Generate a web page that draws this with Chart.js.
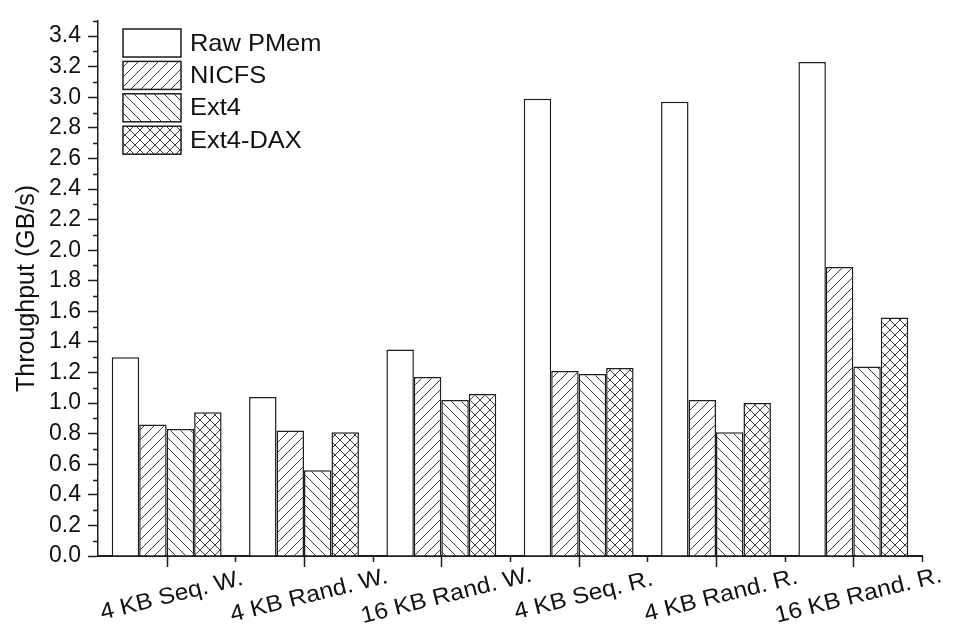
<!DOCTYPE html>
<html>
<head>
<meta charset="utf-8">
<script src="https://cdn.jsdelivr.net/npm/chart.js@4"></script>
<style>
  html, body { margin: 0; padding: 0; background: #fff; }
  #wrap { width: 963px; height: 630px; }
</style>
</head>
<body>
<div id="wrap"><canvas id="myChart" width="963" height="630"></canvas></div>
<script>
// Data
const categories = ['4 KB Seq. W.', '4 KB Rand. W.', '16 KB Rand. W.', '4 KB Seq. R.', '4 KB Rand. R.', '16 KB Rand. R.'];
const rawPMem = [1.30, 1.04, 1.35, 2.99, 2.97, 3.23];
const nicfs   = [0.86, 0.82, 1.17, 1.21, 1.02, 1.89];
const ext4    = [0.83, 0.56, 1.02, 1.19, 0.81, 1.24];
const ext4Dax = [0.94, 0.81, 1.06, 1.23, 1.00, 1.56];
const yTicks  = [0, 0.2, 0.4, 0.6, 0.8, 1.0, 1.2, 1.4, 1.6, 1.8, 2.0, 2.2, 2.4, 2.6, 2.8, 3.0, 3.2, 3.4];

const INK = '#1e1e1e';
const HATCH = '#3a3a3a';
const FONT = 'Arial, "Liberation Sans", sans-serif';

// hatch patterns (size 10px)
function makePattern(kind) {
    const c = document.createElement('canvas');
    c.width = 10; c.height = 10;
    const g = c.getContext('2d');
    g.fillStyle = '#fff';
    g.fillRect(0, 0, 10, 10);
    g.strokeStyle = HATCH;
    g.lineWidth = 1;
    g.beginPath();
    if (kind === 'fwd' || kind === 'cross') {
        g.moveTo(-1, 11); g.lineTo(11, -1);
        g.moveTo(-1, 1); g.lineTo(1, -1);
        g.moveTo(9, 11); g.lineTo(11, 9);
    }
    if (kind === 'back' || kind === 'cross') {
        g.moveTo(-1, -1); g.lineTo(11, 11);
        g.moveTo(9, -1); g.lineTo(11, 1);
        g.moveTo(-1, 9); g.lineTo(1, 11);
    }
    g.stroke();
    return g.createPattern(c, 'repeat');
}

const patterns = {
    raw: '#ffffff',
    nicfs: makePattern('fwd'),
    ext4: makePattern('back'),
    dax: makePattern('cross')
};

const axisExtras = {
    id: 'axisExtras',
    afterDraw(chart) {
        const ctx = chart.ctx;
        const x = chart.scales.x;
        const y = chart.scales.y;
        ctx.save();
        ctx.strokeStyle = INK;
        ctx.lineWidth = 1.5;

        // minor y ticks
        ctx.beginPath();
        for (let i = 0; i < yTicks.length; i++) {
            const mid = i < yTicks.length - 1 ? (yTicks[i] + yTicks[i + 1]) / 2 : yTicks[i] + 0.1;
            const py = Math.round(y.getPixelForValue(mid)) + 0.5;
            ctx.moveTo(y.right - 5, py);
            ctx.lineTo(y.right, py);
        }
        ctx.stroke();

        // x ticks: long at category centers, short at boundaries
        const n = categories.length;
        const step = (x.right - x.left) / n;
        ctx.beginPath();
        for (let i = 0; i < n; i++) {
            const px = Math.round(x.getPixelForValue(i)) + 0.5;
            ctx.moveTo(px, x.top);
            ctx.lineTo(px, x.top + 11);
        }
        for (let i = 1; i <= n; i++) {
            const px = Math.round(x.left + i * step) + 0.5;
            ctx.moveTo(px, x.top);
            ctx.lineTo(px, x.top + 6);
        }
        ctx.stroke();

        // rotated x labels, centered under each tick
        ctx.fillStyle = '#111';
        ctx.font = '23px ' + FONT;
        ctx.textAlign = 'center';
        ctx.textBaseline = 'middle';
        for (let i = 0; i < n; i++) {
            ctx.save();
            ctx.translate(x.getPixelForValue(i) + 5, x.top + 40);
            ctx.rotate(-14 * Math.PI / 180);
            ctx.scale(1.07, 1);
            ctx.fillText(categories[i], 0, 0);
            ctx.restore();
        }

        // legend, top-left inside the plot
        const boxX = 123, boxW = 58, boxH = 28, rowH = 32.4, top0 = 29;
        ctx.font = '24px ' + FONT;
        ctx.textAlign = 'left';
        ctx.textBaseline = 'middle';
        chart.data.datasets.forEach((ds, i) => {
            const by = top0 + i * rowH;
            ctx.fillStyle = ds.backgroundColor;
            ctx.fillRect(boxX, by, boxW, boxH);
            ctx.strokeStyle = INK;
            ctx.lineWidth = 1.5;
            ctx.strokeRect(boxX, by, boxW, boxH);
            ctx.save();
            ctx.translate(boxX + boxW + 9, by + boxH / 2 + 1);
            ctx.scale(1.06, 1);
            ctx.fillStyle = '#111';
            ctx.fillText(ds.label, 0, 0);
            ctx.restore();
        });
        ctx.restore();
    }
};

const ctx = document.getElementById('myChart').getContext('2d');
new Chart(ctx, {
    type: 'bar',
    data: {
        labels: categories,
        datasets: [
            { label: 'Raw PMem', data: rawPMem, backgroundColor: patterns.raw },
            { label: 'NICFS', data: nicfs, backgroundColor: patterns.nicfs },
            { label: 'Ext4', data: ext4, backgroundColor: patterns.ext4 },
            { label: 'Ext4-DAX', data: ext4Dax, backgroundColor: patterns.dax }
        ].map(d => Object.assign(d, {
            borderColor: INK,
            borderWidth: 1.5,
            borderSkipped: 'bottom',
            categoryPercentage: 0.8,
            barPercentage: 1.0
        }))
    },
    options: {
        responsive: false,
        animation: false,
        devicePixelRatio: 1,
        layout: { padding: { top: 8, right: 41, left: 0, bottom: 0 } },
        plugins: {
            legend: { display: false },
            tooltip: { enabled: false }
        },
        scales: {
            x: {
                grid: { display: false },
                border: { display: true, color: INK, width: 2 },
                ticks: { display: false },
                afterFit(scale) { scale.height = 74; }
            },
            y: {
                min: 0,
                max: 3.5,
                afterBuildTicks(scale) { scale.ticks = yTicks.map(v => ({ value: v })); },
                afterFit(scale) { scale.width = 98; },
                grid: {
                    display: true,
                    drawOnChartArea: false,
                    drawTicks: true,
                    tickLength: 10,
                    tickWidth: 1.5,
                    tickColor: INK
                },
                border: { display: true, color: INK, width: 1.5 },
                ticks: {
                    autoSkip: false,
                    padding: 7,
                    color: '#111',
                    font: { family: FONT, size: 23 },
                    callback: v => Number(v).toFixed(1)
                },
                title: {
                    display: true,
                    text: 'Throughput (GB/s)',
                    color: '#111',
                    font: { family: FONT, size: 25 },
                    padding: { top: 12, bottom: 0 }
                }
            }
        }
    },
    plugins: [axisExtras]
});
</script>
</body>
</html>
